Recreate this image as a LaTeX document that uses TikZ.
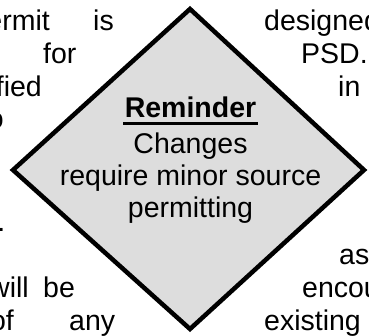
\documentclass[tikz,border=0pt]{standalone}
\usepackage{fontspec}
\setmainfont{Liberation Sans}
\definecolor{boxgray}{RGB}{221,221,221}
\newcommand{\bigtype}{\fontsize{28.5}{33}\selectfont}

\begin{document}
\begin{tikzpicture}[x=1pt,y=-1pt]
    \tikzset{word/.style={font=\bigtype,inner sep=0pt},
      rim/.style={draw=black,line width=4.5pt,fill=boxgray}}
\useasboundingbox (0,0) rectangle (369,335);
\clip (0,0) rectangle (369,335);
% page text behind the box
\node[word,anchor=base east] (permit) at (50,30) {permit};
\node[word,anchor=base west] (is) at (93,30) {is};
\node[word,anchor=base west] (designed) at (264,30) {designed};
\node[word,anchor=base west] (for) at (43,63) {for};
\node[word,anchor=base west] (PSD) at (301,63) {PSD.};
\node[word,anchor=base east] (ified) at (42,96) {ified};
\node[word,anchor=base west] (in) at (338,96) {in};
\node[word,anchor=base east] (to) at (4,128) {to};
\node[word,anchor=base east] (dot) at (5.5,231) {.};
\node[word,anchor=base west] (as) at (339,264) {as};
\node[word,anchor=base east] (will) at (29,297) {will};
\node[word,anchor=base west] (be) at (43,297) {be};
\node[word,anchor=base west] (encourage) at (302,297) {encourage};
\node[word,anchor=base east] (of) at (14,330) {of};
\node[word,anchor=base west] (any) at (69,330) {any};
\node[word,anchor=base west] (existing) at (264,330) {existing};
% the reminder box
\coordinate (top) at (190,9);
\coordinate (right) at (364,170);
\coordinate (bottom) at (190,329);
\coordinate (left) at (13,170);
\draw[rim] (top) -- (right) -- (bottom) -- (left) -- cycle;
\node[word,anchor=base,font=\bigtype\bfseries] (remind) at (190.5,117.5) {Reminder};
\draw[line width=3.3pt] ([xshift=-1.5pt,yshift=-6pt]remind.base west) -- ([xshift=1.5pt,yshift=-6pt]remind.base east);
\node[word,anchor=base] (changes) at (190.5,153) {Changes};
\node[word,anchor=base] (require) at (190.5,185) {require minor source};
\node[word,anchor=base] (permitting) at (190.5,217) {permitting};
\end{tikzpicture}
\end{document}
